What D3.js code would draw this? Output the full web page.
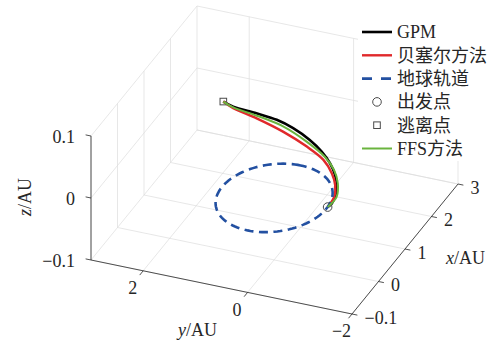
<!DOCTYPE html>
<html>
<head>
<meta charset="utf-8">
<script src="https://cdn.jsdelivr.net/npm/d3@7"></script>
<style>
  body { margin: 0; background: #fff; }
  text { font-family: "Liberation Serif", "Noto Sans CJK SC", serif; font-size: 18px; fill: #262626; }
</style>
</head>
<body>
<div id="chart"></div>
<script>
// axis ticks
const xTicks = [-1, 0, 1, 2, 3];
const xTickLabels = ['\u22120.1', '0', '1', '2', '3'];
const yTicks = [-2, 0, 2];
const yTickLabels = ['\u22122', '0', '2'];
const zTicks = [-0.1, 0, 0.1];
const zTickLabels = ['\u22120.1', '0', '0.1'];

// trajectories (AU), departure -> escape
const gpmX = [0.05, 0.17, 0.36, 0.64, 0.94, 1.22, 1.48, 1.72, 1.94, 2.07, 2.13, 2.18, 2.26];
const gpmY = [-1.00, -1.02, -0.98, -0.88, -0.69, -0.45, -0.16, 0.19, 0.62, 1.00, 1.42, 1.89, 2.12];
const gpmZ = [0, 0, 0, 0, 0, 0, 0, 0, 0, 0, 0, 0, 0];

const bezierX = [0.05, 0.36, 0.67, 0.96, 1.27, 1.53, 1.79, 2.00, 2.14, 2.26];
const bezierY = [-1.00, -0.97, -0.83, -0.62, -0.30, 0.15, 0.73, 1.35, 1.87, 2.12];
const bezierZ = [0, 0, 0, 0, 0, 0, 0, 0, 0, 0];

const ffsX = [0.05, 0.37, 0.73, 1.06, 1.36, 1.66, 1.93, 2.07, 2.16, 2.26];
const ffsY = [-1.00, -1.01, -0.85, -0.61, -0.28, 0.22, 0.80, 1.38, 1.88, 2.12];
const ffsZ = [0, 0, 0, 0, 0, 0, 0, 0, 0, 0];

const earthOrbitRadius = 1; // AU, circle in z = 0
const departure = [0.05, -1.00, 0];
const escape = [2.26, 2.12, 0];

const legendNames = ['GPM', '贝塞尔方法', '地球轨道', '出发点', '逃离点', 'FFS方法'];

const width = 500, height = 340;

const svg = d3.select('#chart')
  .append('svg')
  .attr('width', width)
  .attr('height', height);

// screen positions of the box corners
const P0 = [91, 260];   // (xmin, ymax, zmin)
const PX = [197, 130];  // (xmax, ymax, zmin)
const PY = [352, 314];  // (xmin, ymin, zmin)
const PZ = [91, 136];   // (xmin, ymax, zmax)

const x = d3.scaleLinear().domain([-1, 3]).range([0, 1]);
const y = d3.scaleLinear().domain([3, -2]).range([0, 1]);
const z = d3.scaleLinear().domain([-0.1, 0.1]).range([0, 1]);

function proj(px, py, pz) {
  const a = x(px), b = y(py), c = z(pz);
  return [
    P0[0] + a * (PX[0] - P0[0]) + b * (PY[0] - P0[0]) + c * (PZ[0] - P0[0]),
    P0[1] + a * (PX[1] - P0[1]) + b * (PY[1] - P0[1]) + c * (PZ[1] - P0[1])
  ];
}

function seg(g, p, q, color, w) {
  g.append('line')
    .attr('x1', p[0]).attr('y1', p[1])
    .attr('x2', q[0]).attr('y2', q[1])
    .attr('stroke', color)
    .attr('stroke-width', w);
}

const [x0, x1] = x.domain();
const [y1, y0] = y.domain();
const [z0, z1] = z.domain();

// Grid
const grid = svg.append('g');
const gridColor = '#dcdcdc';
xTicks.forEach(t => {
  seg(grid, proj(t, y1, z0), proj(t, y0, z0), gridColor, 0.7);
  seg(grid, proj(t, y1, z0), proj(t, y1, z1), gridColor, 0.7);
});
yTicks.forEach(t => {
  seg(grid, proj(x0, t, z0), proj(x1, t, z0), gridColor, 0.7);
  seg(grid, proj(x1, t, z0), proj(x1, t, z1), gridColor, 0.7);
});
zTicks.forEach(t => {
  seg(grid, proj(x0, y1, t), proj(x1, y1, t), gridColor, 0.7);
  seg(grid, proj(x1, y1, t), proj(x1, y0, t), gridColor, 0.7);
});

// Axes
const axes = svg.append('g');
const axisColor = '#262626';
seg(axes, proj(x0, y0, z0), proj(x1, y0, z0), axisColor, 0.8);
seg(axes, proj(x0, y1, z0), proj(x0, y0, z0), axisColor, 0.8);
seg(axes, proj(x0, y1, z0), proj(x0, y1, z1), axisColor, 0.8);

const tickLen = 5.5;
function unit(dx, dy) { const l = Math.hypot(dx, dy); return [dx / l, dy / l]; }
const xDir = unit(PY[0] - P0[0], PY[1] - P0[1]);
const yDir = unit(P0[0] - PX[0], P0[1] - PX[1]);
const zDir = unit(P0[0] - PY[0], P0[1] - PY[1]);

xTicks.forEach((t, i) => {
  const p = proj(t, y0, z0);
  seg(axes, p, [p[0] + xDir[0] * tickLen, p[1] + xDir[1] * tickLen], axisColor, 0.8);
  axes.append('text')
    .attr('x', p[0] + 12.5).attr('y', p[1] + 3.5)
    .attr('dy', '0.35em')
    .text(xTickLabels[i]);
});
yTicks.forEach((t, i) => {
  const p = proj(x0, t, z0);
  seg(axes, p, [p[0] + yDir[0] * tickLen, p[1] + yDir[1] * tickLen], axisColor, 0.8);
  axes.append('text')
    .attr('x', p[0] - 10.5).attr('y', p[1] + 17)
    .attr('dy', '0.35em')
    .attr('text-anchor', 'middle')
    .text(yTickLabels[i]);
});
zTicks.forEach((t, i) => {
  const p = proj(x0, y1, t);
  seg(axes, p, [p[0] + zDir[0] * tickLen, p[1] + zDir[1] * tickLen], axisColor, 0.8);
  axes.append('text')
    .attr('x', p[0] - 16).attr('y', p[1] + 0.5)
    .attr('dy', '0.35em')
    .attr('text-anchor', 'end')
    .text(zTickLabels[i]);
});

// Axis labels
function axisLabel(g, letter) {
  g.append('tspan').attr('font-style', 'italic').text(letter);
  g.append('tspan').text('/AU');
}
axisLabel(svg.append('text').attr('x', 446).attr('y', 258).attr('dy', '0.35em'), 'x');
axisLabel(svg.append('text').attr('x', 197.5).attr('y', 329.5).attr('dy', '0.35em')
  .attr('text-anchor', 'middle'), 'y');
axisLabel(svg.append('text').attr('transform', 'translate(25,197) rotate(-90)')
  .attr('dy', '0.35em').attr('text-anchor', 'middle'), 'z');

// Curves
const line = d3.line()
  .x(d => d[0])
  .y(d => d[1])
  .curve(d3.curveCatmullRom.alpha(0.5));

function pts(xs, ys, zs) { return xs.map((v, i) => proj(v, ys[i], zs[i])); }

const colors = { gpm: '#000000', bezier: '#e0292b', orbit: '#2350a1', ffs: '#6ab43e', marker: '#4a4a4a' };

svg.append('path')
  .attr('d', line(pts(gpmX, gpmY, gpmZ)))
  .attr('fill', 'none').attr('stroke', colors.gpm).attr('stroke-width', 2.6);

svg.append('path')
  .attr('d', line(pts(bezierX, bezierY, bezierZ)))
  .attr('fill', 'none').attr('stroke', colors.bezier).attr('stroke-width', 2.4);

const orbitPts = d3.range(0, 360, 3).map(a => {
  const r = a * Math.PI / 180;
  return proj(earthOrbitRadius * Math.cos(r), earthOrbitRadius * Math.sin(r), 0);
});
svg.append('path')
  .attr('d', d3.line().curve(d3.curveLinearClosed)(orbitPts))
  .attr('fill', 'none').attr('stroke', colors.orbit)
  .attr('stroke-width', 2.6).attr('stroke-dasharray', '9,5.5');

const dep = proj(...departure);
svg.append('circle')
  .attr('cx', dep[0]).attr('cy', dep[1]).attr('r', 4.3)
  .attr('fill', 'none').attr('stroke', colors.marker).attr('stroke-width', 1);

const esc = proj(...escape);
svg.append('rect')
  .attr('x', esc[0] - 3.3).attr('y', esc[1] - 3.3)
  .attr('width', 6.6).attr('height', 6.6)
  .attr('fill', 'none').attr('stroke', colors.marker).attr('stroke-width', 1);

svg.append('path')
  .attr('d', line(pts(ffsX, ffsY, ffsZ)))
  .attr('fill', 'none').attr('stroke', colors.ffs).attr('stroke-width', 2);

// Legend
const legend = svg.append('g');
legend.append('rect')
  .attr('x', 358).attr('y', 17).attr('width', 140).attr('height', 144)
  .attr('fill', '#fff');

const rowY = i => 32 + i * 23.3;
const lx0 = 362, lx1 = 392;
legendNames.forEach((name, i) => {
  const yy = rowY(i);
  const g = legend.append('g');
  if (i === 0) seg(g, [lx0, yy], [lx1, yy], colors.gpm, 2.6);
  if (i === 1) seg(g, [lx0, yy], [lx1, yy], colors.bezier, 2.4);
  if (i === 2) {
    g.append('line').attr('x1', lx0).attr('y1', yy).attr('x2', lx1).attr('y2', yy)
      .attr('stroke', colors.orbit).attr('stroke-width', 2.6).attr('stroke-dasharray', '10,9');
  }
  if (i === 3) {
    g.append('circle').attr('cx', (lx0 + lx1) / 2).attr('cy', yy).attr('r', 4.3)
      .attr('fill', 'none').attr('stroke', colors.marker).attr('stroke-width', 1);
  }
  if (i === 4) {
    g.append('rect').attr('x', (lx0 + lx1) / 2 - 3.3).attr('y', yy - 3.3)
      .attr('width', 6.6).attr('height', 6.6)
      .attr('fill', 'none').attr('stroke', colors.marker).attr('stroke-width', 1);
  }
  if (i === 5) seg(g, [lx0, yy], [lx1, yy], colors.ffs, 2);
  g.append('text')
    .attr('x', 397).attr('y', yy)
    .attr('dy', '0.35em')
    .text(name);
});
</script>
</body>
</html>
